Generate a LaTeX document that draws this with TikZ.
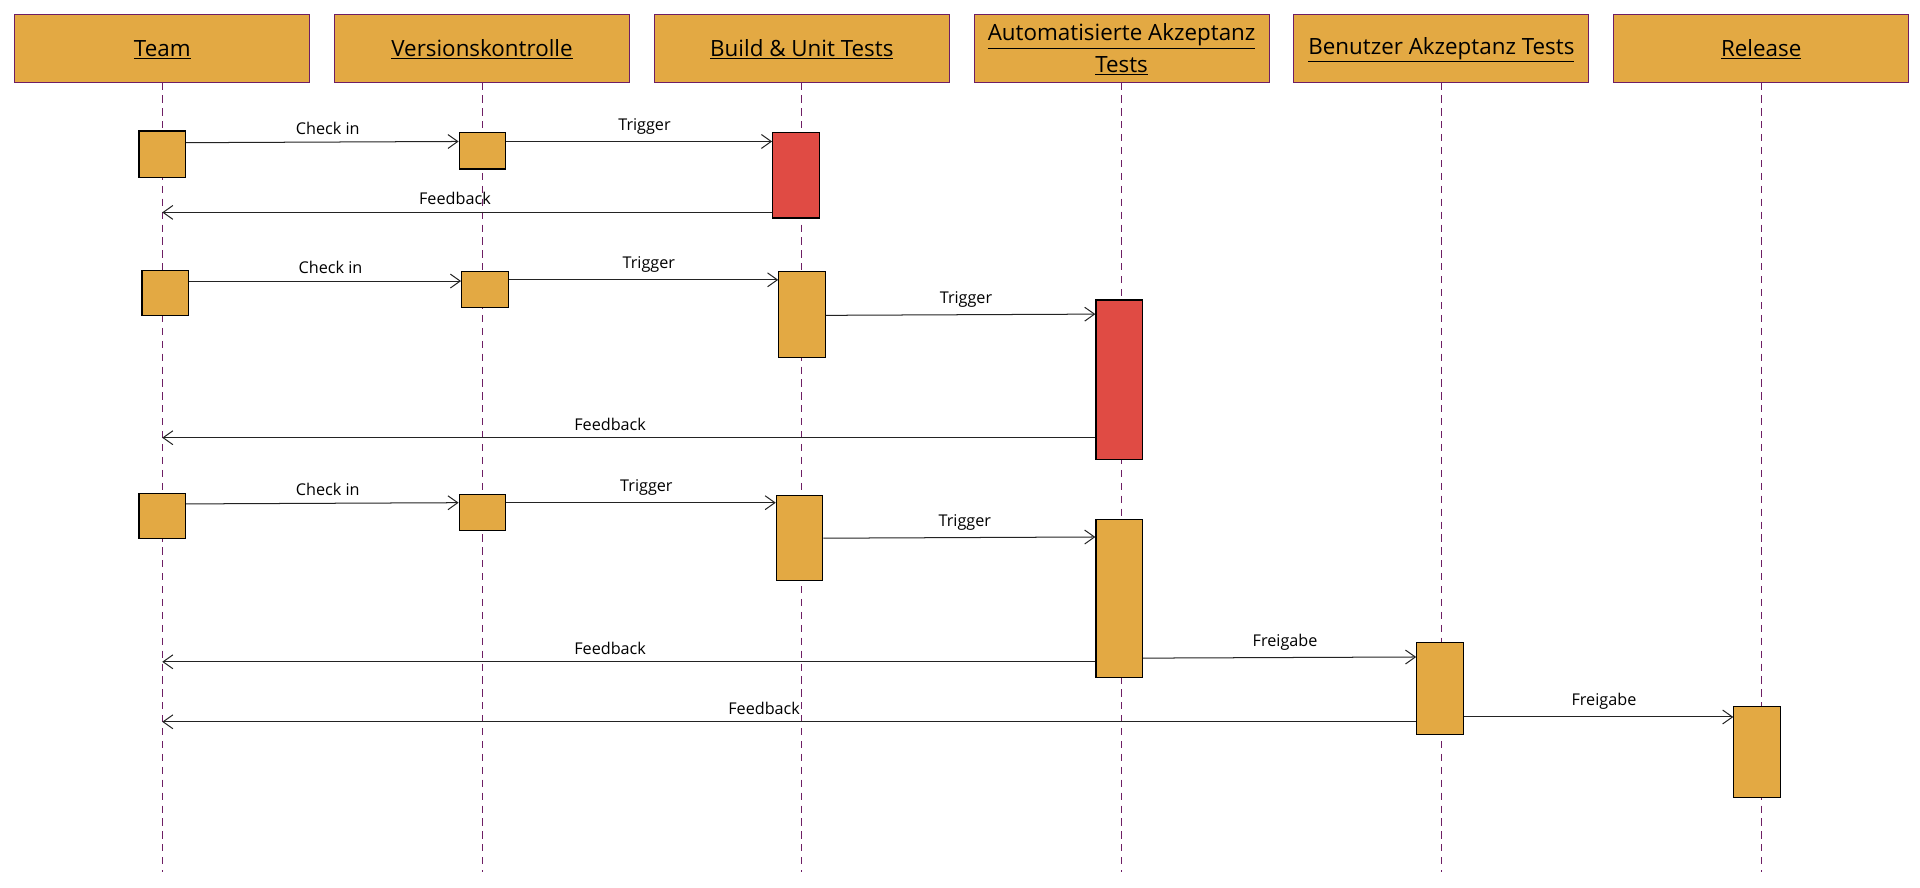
\documentclass[tikz,border=0pt]{standalone}
\usepackage{fontspec}
\setmainfont{Open Sans}
\usetikzlibrary{arrows.meta,positioning,calc}
\definecolor{boxfill}{RGB}{227,169,67}
\definecolor{failfill}{RGB}{224,75,68}
\definecolor{lane}{RGB}{110,30,100}
\definecolor{ink}{RGB}{35,35,35}
\newcommand{\lanetitle}[1]{\underline{#1}\rule[-3pt]{0pt}{17pt}}

\begin{document}
\begin{tikzpicture}[x=0.3mm,y=-0.3mm,
    lanehead/.style={draw=lane,fill=boxfill,line width=0.7pt,minimum width=72.3mm,minimum height=16.5mm,
      align=center,inner sep=2pt,font=\fontsize{15.6}{22}\selectfont},
    lifeline/.style={draw=lane,line width=0.6pt,dash pattern=on 5pt off 4pt},
    act/.style={draw=black,fill=boxfill,line width=0.8pt,minimum width=11.4mm,minimum height=#1*0.3mm,inner sep=0pt},
    failact/.style={act=#1,fill=failfill},
    msg/.style={draw=ink,line width=0.7pt,-{Straight Barb[length=2.4mm,width=3.4mm]}},
    lbl/.style={above,pos=0.52,inner sep=2pt,yshift=1mm,font=\fontsize{11.3}{13}\selectfont}]
  \useasboundingbox (0,0) rectangle (1568,725);
  \coordinate (bottom) at (0,712);

  % participants
  \node[lanehead] (team) at (132.5,39.5) {\lanetitle{Team}};
  \node[lanehead,right=5.8mm of team] (vk) {\lanetitle{Versionskontrolle}};
  \node[lanehead,right=5.8mm of vk] (build) {\lanetitle{Build \& Unit Tests}};
  \node[lanehead,right=5.8mm of build] (aat) {\lanetitle{Automatisierte Akzeptanz}\\\lanetitle{Tests}};
  \node[lanehead,right=5.8mm of aat] (bat) {\lanetitle{Benutzer Akzeptanz Tests}};
  \node[lanehead,right=5.8mm of bat] (rel) {\lanetitle{Release}};
  \foreach \p in {team,vk,build,aat,bat,rel}
    \draw[lifeline] (\p.south) -- (\p |- bottom);

  % first run: build fails
  \node[act=38] (t1) at (132.5,126) {};
  \node[act=30] (v1) at (394,123) {};
  \node[failact=70] (b1) at (650,143) {};
  \draw[msg] ($(t1.north east)+(0,10)$) -- ($(v1.north west)+(0,8)$) node[lbl]{Check in};
  \draw[msg] ($(v1.north east)+(0,8)$) -- ($(b1.north west)+(0,8)$) node[lbl]{Trigger};
  \draw[msg] ($(b1.south west)+(0,-5)$) coordinate (f1) -- (f1 -| team) node[lbl]{Feedback};

  % second run: acceptance tests fail
  \node[act=37] (t2) at (135,239.5) {};
  \node[act=29] (v2) at (396,236.5) {};
  \node[act=70] (b2) at (655,257) {};
  \node[failact=130] (a2) at (914,310) {};
  \draw[msg] ($(t2.north east)+(0,9)$) -- ($(v2.north west)+(0,8)$) node[lbl]{Check in};
  \draw[msg] ($(v2.north east)+(0,7)$) -- ($(b2.north west)+(0,7)$) node[lbl]{Trigger};
  \draw[msg] ($(b2.north east)+(0,36)$) -- ($(a2.north west)+(0,12)$) node[lbl]{Trigger};
  \draw[msg] ($(a2.south west)+(0,-18)$) coordinate (f2) -- (f2 -| team) node[lbl]{Feedback};

  % third run: release
  \node[act=37] (t3) at (132.5,421.5) {};
  \node[act=29] (v3) at (394,418.5) {};
  \node[act=69] (b3) at (653,439.5) {};
  \node[act=129] (a3) at (914,488.5) {};
  \node[act=75] (u3) at (1176,562.5) {};
  \node[act=74] (r3) at (1435,614) {};
  \draw[msg] ($(t3.north east)+(0,9)$) -- ($(v3.north west)+(0,7)$) node[lbl]{Check in};
  \draw[msg] ($(v3.north east)+(0,7)$) -- ($(b3.north west)+(0,6)$) node[lbl]{Trigger};
  \draw[msg] ($(b3.north east)+(0,35)$) -- ($(a3.north west)+(0,15)$) node[lbl]{Trigger};
  \draw[msg] ($(a3.south west)+(0,-13)$) coordinate (f3) -- (f3 -| team) node[lbl]{Feedback};
  \draw[msg] ($(a3.south east)+(0,-16)$) -- ($(u3.north west)+(0,12)$) node[lbl]{Freigabe};
  \draw[msg] ($(u3.south west)+(0,-11)$) coordinate (f4) -- (f4 -| team) node[lbl]{Feedback};
  \draw[msg] ($(u3.north east)+(0,61)$) -- ($(r3.north west)+(0,9)$) node[lbl]{Freigabe};
\end{tikzpicture}
\end{document}
